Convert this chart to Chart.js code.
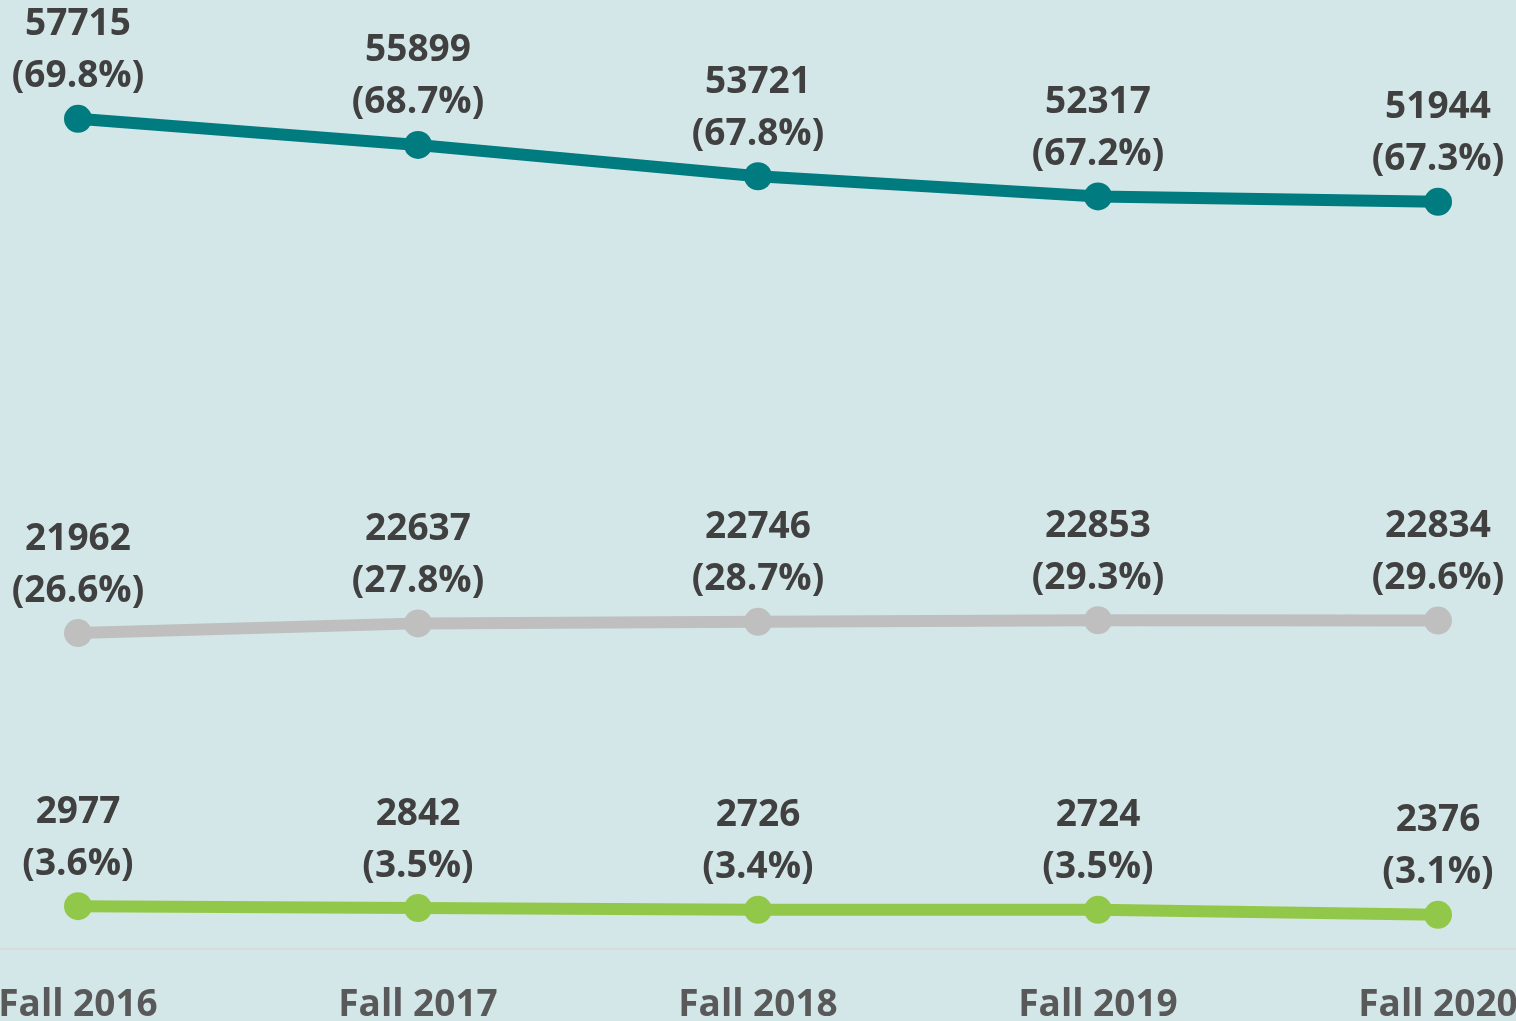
<!DOCTYPE html>
<html>
<head>
<meta charset="utf-8">
<script src="https://cdn.jsdelivr.net/npm/chart.js@4.4.1/dist/chart.umd.min.js"></script>
<style>
  html, body { margin: 0; padding: 0; background: #d4e7e8; }
  #wrap { width: 1516px; height: 1021px; }
</style>
</head>
<body>
<div id="wrap"><canvas id="chart" width="1516" height="1021"></canvas></div>
<script>
const terms = ["Fall 2016", "Fall 2017", "Fall 2018", "Fall 2019", "Fall 2020"];

const topCounts = [57715, 55899, 53721, 52317, 51944];
const topPct = ["69.8%", "68.7%", "67.8%", "67.2%", "67.3%"];

const midCounts = [21962, 22637, 22746, 22853, 22834];
const midPct = ["26.6%", "27.8%", "28.7%", "29.3%", "29.6%"];

const lowCounts = [2977, 2842, 2726, 2724, 2376];
const lowPct = ["3.6%", "3.5%", "3.4%", "3.5%", "3.1%"];

const FONT = "'Open Sans', Lato, sans-serif";

// baseline runs across the whole picture, not only the plot area
const baseLine = {
  id: "baseLine",
  beforeDatasetsDraw(chart) {
    const ctx = chart.ctx;
    const y = Math.round(chart.scales.y.getPixelForValue(0));
    ctx.save();
    ctx.strokeStyle = "#d9d9d9";
    ctx.lineWidth = 2;
    ctx.beginPath();
    ctx.moveTo(0, y);
    ctx.lineTo(chart.width, y);
    ctx.stroke();
    ctx.restore();
  }
};

// two line labels above every point: count, then (pct)
const pointLabels = {
  id: "pointLabels",
  afterDatasetsDraw(chart) {
    const ctx = chart.ctx;
    ctx.save();
    ctx.font = "bold 37px " + FONT;
    ctx.fillStyle = "#404040";
    ctx.textAlign = "center";
    ctx.textBaseline = "middle";
    chart.data.datasets.forEach((ds, i) => {
      const meta = chart.getDatasetMeta(i);
      meta.data.forEach((pt, j) => {
        ctx.fillText(String(ds.data[j]), pt.x, pt.y - 94);
        ctx.fillText("(" + ds.pct[j] + ")", pt.x, pt.y - 42);
      });
    });
    ctx.restore();
  }
};

function lineSet(data, pct, color) {
  return {
    data: data,
    pct: pct,
    borderColor: color,
    backgroundColor: color,
    borderWidth: 12,
    pointRadius: 14,
    pointHoverRadius: 14,
    pointBorderWidth: 0,
    tension: 0,
    fill: false
  };
}

new Chart(document.getElementById("chart"), {
  type: "line",
  data: {
    labels: terms,
    datasets: [
      lineSet(topCounts, topPct, "#007b7f"),
      lineSet(midCounts, midPct, "#bfbfbf"),
      lineSet(lowCounts, lowPct, "#92c84a")
    ]
  },
  options: {
    responsive: false,
    animation: false,
    layout: { padding: { left: 78, right: 78, top: 0, bottom: -33 } },
    plugins: { legend: { display: false }, tooltip: { enabled: false } },
    scales: {
      x: {
        offset: false,
        grid: { display: false },
        border: { display: false, width: 2 },
        ticks: {
          color: "#595959",
          font: { family: FONT, size: 37, weight: "bold", lineHeight: 1 },
          padding: 30,
          maxRotation: 0,
          autoSkip: false
        },
        afterFit(scale) {
          // edge labels are allowed to run to the canvas border
          scale.paddingLeft = 0;
          scale.paddingRight = 0;
        }
      },
      y: {
        display: false,
        min: 0,
        max: 65000
      }
    }
  },
  plugins: [baseLine, pointLabels]
});
</script>
</body>
</html>
